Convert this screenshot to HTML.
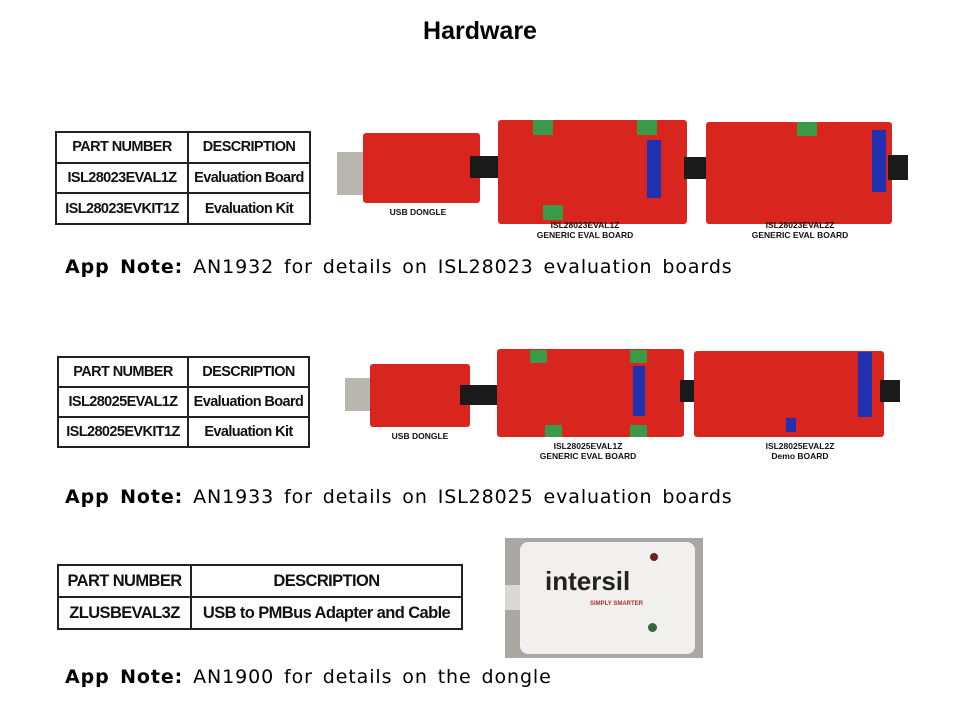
<!DOCTYPE html>
<html><head><meta charset="utf-8"><style>
body{margin:0;width:960px;height:720px;background:#fff;position:relative;overflow:hidden;font-family:"Liberation Sans",sans-serif}
.a{position:absolute}
.t{position:absolute;border-collapse:collapse;font-family:"Liberation Sans",sans-serif;font-weight:bold;font-size:14.5px;color:#111}
.t td{border:2px solid #222;text-align:center;padding:0;letter-spacing:-0.6px}
.red{background:#d8261f;border-radius:3px}
.usb{background:#b9b6b0}
.cab{background:#1a1a1a}
.lab{position:absolute;font-size:8.5px;font-weight:bold;text-align:center;color:#111;line-height:10px}
.note{position:absolute;left:65px;font-family:"DejaVu Sans",sans-serif;font-size:19px;letter-spacing:0.9px;word-spacing:3px;color:#000;white-space:nowrap}
.g{position:absolute;background:#3a9a4a}
.b{position:absolute;background:#2030b0}
</style></head><body>
<div class="a" style="left:0;width:960px;top:17px;text-align:center;font-size:25px;font-weight:bold">Hardware</div>

<table class="t" style="left:55px;top:131px;width:256px;height:94px">
<tr><td style="width:130px">PART NUMBER</td><td>DESCRIPTION</td></tr>
<tr><td>ISL28023EVAL1Z</td><td>Evaluation Board</td></tr>
<tr><td>ISL28023EVKIT1Z</td><td>Evaluation Kit</td></tr></table>

<div class="a usb" style="left:337px;top:152px;width:45px;height:43px"></div>
<div class="a red" style="left:363px;top:133px;width:117px;height:70px"></div>
<div class="a cab" style="left:470px;top:156px;width:32px;height:22px"></div>
<div class="a red" style="left:498px;top:120px;width:189px;height:104px"></div>
<div class="a cab" style="left:684px;top:157px;width:24px;height:22px"></div>
<div class="a red" style="left:706px;top:122px;width:186px;height:102px"></div>
<div class="a cab" style="left:888px;top:155px;width:20px;height:25px"></div>
<div class="g" style="left:533px;top:120px;width:20px;height:15px"></div>
<div class="g" style="left:637px;top:120px;width:20px;height:15px"></div>
<div class="g" style="left:543px;top:205px;width:20px;height:15px"></div>
<div class="g" style="left:797px;top:122px;width:20px;height:14px"></div>
<div class="b" style="left:647px;top:140px;width:14px;height:58px"></div>
<div class="b" style="left:872px;top:130px;width:14px;height:62px"></div>
<div class="lab" style="left:378px;top:207px;width:80px">USB DONGLE</div>
<div class="lab" style="left:520px;top:220px;width:130px">ISL28023EVAL1Z<br>GENERIC EVAL BOARD</div>
<div class="lab" style="left:735px;top:220px;width:130px">ISL28023EVAL2Z<br>GENERIC EVAL BOARD</div>

<div class="note" style="top:256px"><b>App Note:</b> AN1932 for details on ISL28023 evaluation boards</div>

<table class="t" style="left:57px;top:356px;width:253px;height:92px">
<tr><td style="width:128px">PART NUMBER</td><td>DESCRIPTION</td></tr>
<tr><td>ISL28025EVAL1Z</td><td>Evaluation Board</td></tr>
<tr><td>ISL28025EVKIT1Z</td><td>Evaluation Kit</td></tr></table>

<div class="a usb" style="left:345px;top:378px;width:35px;height:33px"></div>
<div class="a red" style="left:370px;top:364px;width:100px;height:63px"></div>
<div class="a cab" style="left:460px;top:385px;width:40px;height:20px"></div>
<div class="a red" style="left:497px;top:349px;width:187px;height:88px"></div>
<div class="a cab" style="left:680px;top:380px;width:20px;height:22px"></div>
<div class="a red" style="left:694px;top:351px;width:190px;height:86px"></div>
<div class="a cab" style="left:880px;top:380px;width:20px;height:22px"></div>
<div class="g" style="left:530px;top:350px;width:17px;height:13px"></div>
<div class="g" style="left:630px;top:350px;width:17px;height:13px"></div>
<div class="g" style="left:545px;top:425px;width:17px;height:12px"></div>
<div class="g" style="left:630px;top:425px;width:17px;height:12px"></div>
<div class="b" style="left:633px;top:366px;width:12px;height:50px"></div>
<div class="b" style="left:858px;top:352px;width:14px;height:65px"></div>
<div class="b" style="left:786px;top:418px;width:10px;height:14px"></div>
<div class="lab" style="left:380px;top:431px;width:80px">USB DONGLE</div>
<div class="lab" style="left:523px;top:441px;width:130px">ISL28025EVAL1Z<br>GENERIC EVAL BOARD</div>
<div class="lab" style="left:735px;top:441px;width:130px">ISL28025EVAL2Z<br>Demo BOARD</div>

<div class="note" style="top:486px"><b>App Note:</b> AN1933 for details on ISL28025 evaluation boards</div>

<table class="t" style="left:57px;top:564px;width:406px;height:66px;font-size:16.5px">
<tr><td style="width:131px">PART NUMBER</td><td>DESCRIPTION</td></tr>
<tr><td>ZLUSBEVAL3Z</td><td>USB to PMBus Adapter and Cable</td></tr></table>

<div class="a" style="left:505px;top:538px;width:198px;height:120px;background:#a9a7a2"></div>
<div class="a" style="left:505px;top:585px;width:20px;height:25px;background:#d8d8d6"></div>
<div class="a" style="left:520px;top:542px;width:175px;height:112px;background:#f1f0ee;border-radius:8px"></div>
<div class="a" style="left:650px;top:553px;width:8px;height:8px;border-radius:50%;background:#6a2020"></div>
<div class="a" style="left:648px;top:623px;width:9px;height:9px;border-radius:50%;background:#2f6a3a"></div>
<div class="a" style="left:545px;top:566px;font-size:26px;font-weight:bold;color:#222;letter-spacing:0px">intersil</div>
<div class="a" style="left:590px;top:601px;font-size:6px;color:#b03030;font-weight:bold">SIMPLY SMARTER</div>

<div class="note" style="top:666px"><b>App Note:</b> AN1900 for details on the dongle</div>
</body></html>
